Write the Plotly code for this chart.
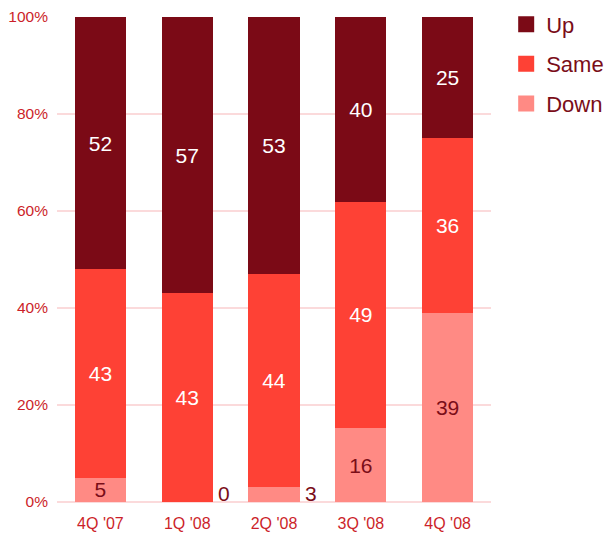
import plotly.graph_objects as go

quarters = ["4Q '07", "1Q '08", "2Q '08", "3Q '08", "4Q '08"]
down = [5, 0, 3, 16, 39]
same = [43, 43, 44, 49, 36]
up = [52, 57, 53, 40, 25]

series = [("Down", down, "#ff8a84", "#7a0d18"),
          ("Same", same, "#fe4135", "white"),
          ("Up", up, "#7b0a16", "white")]

totals = [d + s + u for d, s, u in zip(down, same, up)]
SMALL = 4  # segments below this share are labelled beside the bar
FONT = "Liberation Sans, Arial"

fig = go.Figure()
for name, vals, color, tcolor in series:
    shares = [v / t * 100 for v, t in zip(vals, totals)]
    text = [str(v) if sh >= SMALL else "" for v, sh in zip(vals, shares)]
    fig.add_trace(go.Bar(
        x=quarters, y=vals, name=name, marker_color=color,
        marker_line_width=0, text=text, textposition="inside",
        insidetextanchor="middle", textangle=0,
        textfont=dict(color=tcolor, size=21, family=FONT),
        showlegend=False, hoverinfo="skip",
    ))

# small Down segments labelled to the right of the bar
for i, (v, t) in enumerate(zip(down, totals)):
    if v / t * 100 < SMALL:
        fig.add_annotation(
            x=i + 0.295, y=0, xref="x", yref="y", text=str(v),
            showarrow=False, xanchor="left", yanchor="bottom",
            xshift=3, yshift=-5,
            font=dict(color="#7a0d18", size=21, family=FONT),
        )

# legend entries with large square swatches
for name, vals, color, tcolor in reversed(series):
    fig.add_trace(go.Scatter(
        x=[None], y=[None], mode="markers", name=name,
        marker=dict(symbol="square", size=17, color=color),
        legendgroup=name, showlegend=True,
    ))

fig.update_layout(
    barmode="stack", barnorm="percent", bargap=0.41,
    width=608, height=537,
    margin=dict(l=57, r=117, t=17, b=35, autoexpand=False),
    paper_bgcolor="white", plot_bgcolor="white",
    font=dict(family=FONT, color="#cc1f2a"),
    uniformtext=dict(minsize=21, mode="show"),
    legend=dict(
        x=1.035, y=1.028, xanchor="left", yanchor="top",
        font=dict(size=22, color="#7a0d18"),
        tracegroupgap=8, itemwidth=30,
        bgcolor="rgba(0,0,0,0)",
    ),
    xaxis=dict(showgrid=False, showline=False, ticks="",
               ticklabelstandoff=10,
               tickfont=dict(size=16, color="#cc1f2a")),
    yaxis=dict(range=[0, 100], tickvals=[0, 20, 40, 60, 80, 100],
               ticktext=["0%", "20%", "40%", "60%", "80%", "100%"],
               showgrid=True, gridcolor="#fbdadb", gridwidth=1.5,
               zeroline=True, zerolinecolor="#fbdadb", zerolinewidth=1.5,
               ticks="", ticklabelstandoff=8,
               tickfont=dict(size=15.5, color="#cc1f2a")),
)

fig.write_html("out.html")
